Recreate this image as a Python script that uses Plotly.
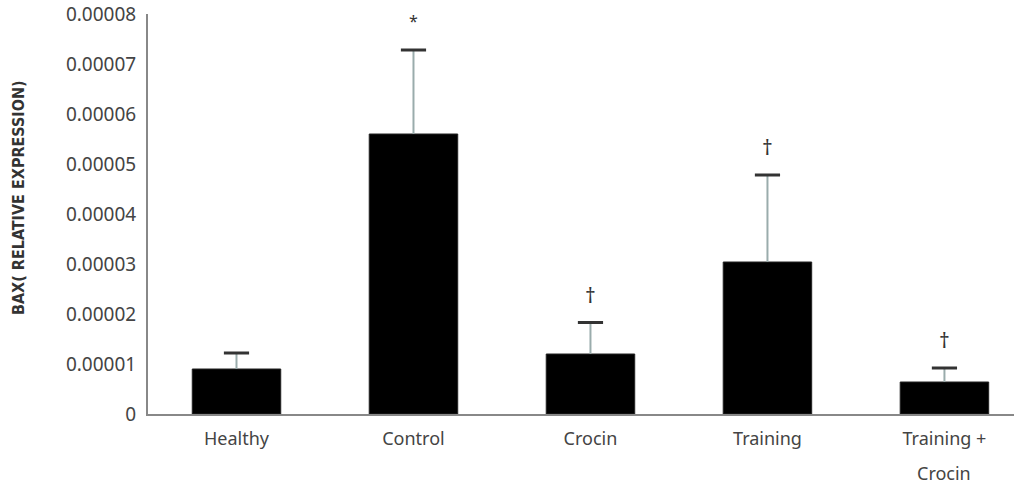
import plotly.graph_objects as go

categories = ["Healthy", "Control", "Crocin", "Training", "Training +"]
means = [0.0000090, 0.0000560, 0.0000120, 0.0000304, 0.0000064]
errors = [0.0000032, 0.0000168, 0.0000063, 0.0000174, 0.0000028]
marks = ["", "*", "†", "†", "†"]
y_ticks = [0, 0.00001, 0.00002, 0.00003, 0.00004, 0.00005, 0.00006, 0.00007, 0.00008]
y_tick_text = ["0", "0.00001", "0.00002", "0.00003", "0.00004", "0.00005", "0.00006", "0.00007", "0.00008"]

FONT = "Noto Sans"
fig = go.Figure()
fig.add_trace(go.Bar(
    x=categories, y=means, width=0.5,
    marker=dict(color="black", line=dict(color="#222", width=1)),
    error_y=dict(type="data", symmetric=False, array=errors, arrayminus=[0]*5,
                 color="#9aacac", thickness=2, width=0),
    showlegend=False,
))
tops = [m + e for m, e in zip(means, errors)]
fig.add_trace(go.Scatter(
    x=categories, y=tops, mode="markers",
    marker=dict(symbol="line-ew", size=18, line=dict(color="#333", width=3)),
    showlegend=False, hoverinfo="skip",
))
for c, t, m in zip(categories, tops, marks):
    if m:
        fig.add_annotation(x=c, y=t, text=m, showarrow=False, yanchor="bottom",
                           yshift=12 if m == "†" else 16,
                           font=dict(family=FONT, size=21 if m == "†" else 16, color="#333"))
fig.add_annotation(x=categories[-1], y=0, yref="y", text="Crocin", showarrow=False,
                   yshift=-59, font=dict(family=FONT, size=18, color="#444"))
fig.add_annotation(xref="paper", yref="paper", x=0, y=0.54, xanchor="center", yanchor="middle",
                   xshift=-130,
                   text="<b>BAX( RELATIVE EXPRESSION)</b>", textangle=-90, showarrow=False,
                   font=dict(family="Liberation Sans Narrow, DejaVu Sans Condensed", size=16, color="#333"))

fig.update_layout(
    width=1014, height=484,
    margin=dict(l=148, r=0, t=14, b=70),
    paper_bgcolor="white", plot_bgcolor="white",
    xaxis=dict(range=[-0.5, 4.393], showline=True, linecolor="#888", linewidth=2,
               ticks="", showgrid=False, zeroline=False, ticklabelstandoff=7,
               tickfont=dict(family=FONT, size=18, color="#444")),
    yaxis=dict(range=[0, 0.00008], tickvals=y_ticks, ticktext=y_tick_text,
               showline=True, linecolor="#888", linewidth=2, ticks="",
               showgrid=False, zeroline=False, ticklabelstandoff=6,
               tickfont=dict(family=FONT, size=19, color="#444")),
)
fig.write_html("out.html", config={"displayModeBar": False},
               post_script="document.body.style.margin='0';document.body.style.overflow='hidden';")
